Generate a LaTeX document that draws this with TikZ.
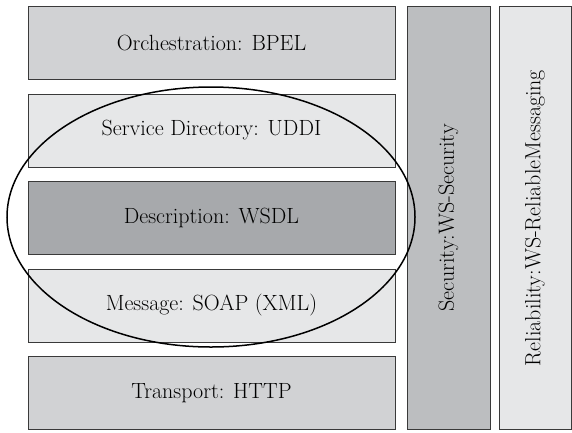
\documentclass[tikz,border=0pt]{standalone}
\usepackage{tikz}
\usetikzlibrary{positioning}
\definecolor{LayerMid}{HTML}{D1D2D4}
\definecolor{LayerLight}{HTML}{E6E7E8}
\definecolor{LayerDark}{HTML}{A7A9AC}
\definecolor{SideMid}{HTML}{BCBEC0}
\definecolor{EdgeGray}{HTML}{3A3A3A}

\begin{document}
\begin{tikzpicture}[x=1pt,y=-1pt,
      layer/.style={draw=EdgeGray,line width=1pt,minimum width=367pt,minimum height=73pt,
                    inner sep=0pt,outer sep=0pt,font=\fontsize{22}{26}\selectfont},
      side/.style={draw=EdgeGray,line width=1pt,minimum height=423pt,inner sep=0pt,
                   font=\fontsize{22}{26}\selectfont},
      stack/.style={black,line width=1.5pt}]
    \useasboundingbox (0,0) rectangle (572,432);
    \node[layer,fill=LayerMid]   (orch) at (211.5,43)          {Orchestration: BPEL};
    \node[layer,fill=LayerLight] (uddi) [below=14.5pt of orch] {Service Directory: UDDI};
    \node[layer,fill=LayerDark]  (wsdl) [below=14.5pt of uddi] {Description: WSDL};
    \node[layer,fill=LayerLight] (soap) [below=14.5pt of wsdl] {Message: SOAP (XML)};
    \node[layer,fill=LayerMid]   (http) [below=14.5pt of soap] {Transport: HTTP};
    \node[side,fill=SideMid,minimum width=83pt]    (sec) at (448.5,218) {\rotatebox{90}{Security:WS-Security}};
    \node[side,fill=LayerLight,minimum width=72pt] (rel) at (535,218)   {\rotatebox{90}{Reliability:WS-ReliableMessaging}};
    \draw[stack] (211,217) ellipse [x radius=204pt,y radius=130pt];
  \end{tikzpicture}
\end{document}
